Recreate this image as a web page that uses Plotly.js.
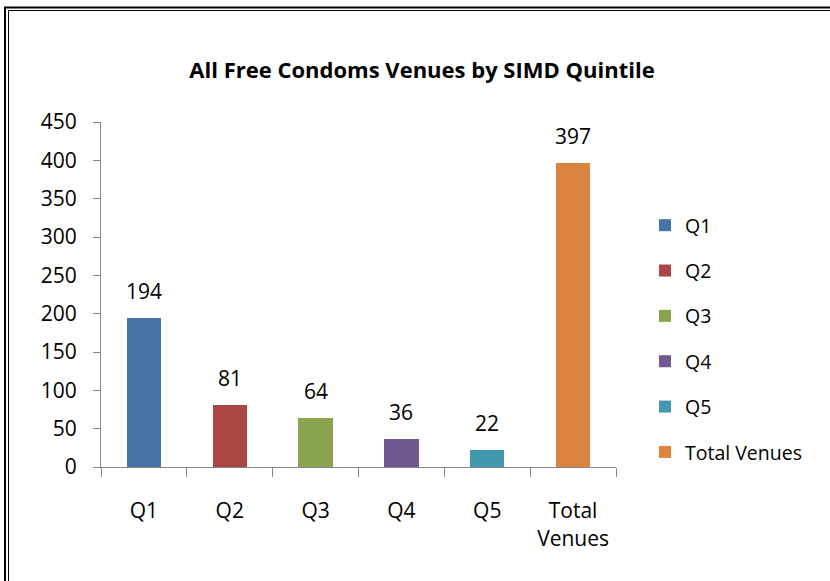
<!DOCTYPE html>
<html>
<head>
<meta charset="utf-8">
<script src="https://cdn.plot.ly/plotly-3.0.1.min.js"></script>
<style>
  html, body { margin: 0; padding: 0; background: #fff; }
  #chart { width: 830px; height: 581px; }
</style>
</head>
<body>
<div id="chart"></div>
<script>
// ---- data ----
const categories = ['Q1', 'Q2', 'Q3', 'Q4', 'Q5', 'Total Venues'];
const tickLabels = ['Q1', 'Q2', 'Q3', 'Q4', 'Q5', 'Total<br>Venues'];
const values = [194, 81, 64, 36, 22, 397];
const colors = ['#4572A7', '#AA4643', '#89A54E', '#71588F', '#4198AF', '#DB843D'];
const chartTitle = 'All Free Condoms Venues by SIMD Quintile';
const yTicks = [0, 50, 100, 150, 200, 250, 300, 350, 400, 450];

const FONT = '"Open Sans", "Liberation Sans", sans-serif';

const traces = categories.map((c, i) => ({
  type: 'bar',
  name: c,
  x: [c],
  y: [values[i]],
  width: 0.4,
  marker: { color: colors[i], line: { width: 0 } },
  legendgroup: 'g' + i,
  hoverinfo: 'x+y'
}));

const annotations = categories.map((c, i) => ({
  x: c, y: values[i], xref: 'x', yref: 'y',
  text: String(values[i]),
  showarrow: false, yanchor: 'bottom', yshift: 11,
  font: { family: FONT, size: 21, color: '#000' }
}));

// double frame around chart (partly cut off at right/bottom)
const px = v => (v - 101) / 515;
const py = v => (467 - v) / 345;
const shapes = [
  { type: 'line', xref: 'paper', yref: 'paper', x0: px(5), x1: px(5), y0: py(7), y1: py(700), line: { color: '#000', width: 2 } },
  { type: 'line', xref: 'paper', yref: 'paper', x0: px(4), x1: px(900), y0: py(7.5), y1: py(7.5), line: { color: '#000', width: 2 } },
  { type: 'line', xref: 'paper', yref: 'paper', x0: px(8.5), x1: px(8.5), y0: py(10.5), y1: py(700), line: { color: '#000', width: 1 } },
  { type: 'line', xref: 'paper', yref: 'paper', x0: px(8.5), x1: px(900), y0: py(10.5), y1: py(10.5), line: { color: '#000', width: 1 } }
];

const layout = {
  width: 830, height: 581,
  paper_bgcolor: '#fff', plot_bgcolor: '#fff',
  margin: { l: 101, r: 214, t: 122, b: 114 },
  barmode: 'stack',
  font: { family: FONT, size: 21, color: '#000' },
  title: {
    text: '<b>' + chartTitle + '</b>',
    font: { family: FONT, size: 22, color: '#000' },
    x: 422 / 830, xanchor: 'center',
    y: 1 - 70 / 581, yanchor: 'middle'
  },
  xaxis: {
    type: 'category',
    tickvals: categories, ticktext: tickLabels,
    tickson: 'boundaries',
    ticks: 'outside', ticklen: 9, tickcolor: '#868686', tickwidth: 1,
    showline: true, linecolor: '#868686', linewidth: 1,
    showgrid: false, zeroline: false,
    ticklabelstandoff: 25,
    tickfont: { family: FONT, size: 21, color: '#000' },
    fixedrange: true
  },
  yaxis: {
    range: [0, 450],
    tickvals: yTicks,
    ticks: 'outside', ticklen: 7, tickcolor: '#868686', tickwidth: 1,
    showline: true, linecolor: '#868686', linewidth: 1,
    showgrid: false, zeroline: false,
    ticklabelstandoff: 12,
    tickfont: { family: FONT, size: 21, color: '#000' },
    fixedrange: true
  },
  showlegend: true,
  legend: {
    x: px(645), xanchor: 'left',
    y: py(206), yanchor: 'top',
    font: { family: FONT, size: 19.5, color: '#000' },
    tracegroupgap: 17,
    itemwidth: 30,
    bgcolor: 'rgba(0,0,0,0)'
  },
  annotations: annotations,
  shapes: shapes
};

Plotly.newPlot('chart', traces, layout, { displayModeBar: false, staticPlot: true });
</script>
</body>
</html>
